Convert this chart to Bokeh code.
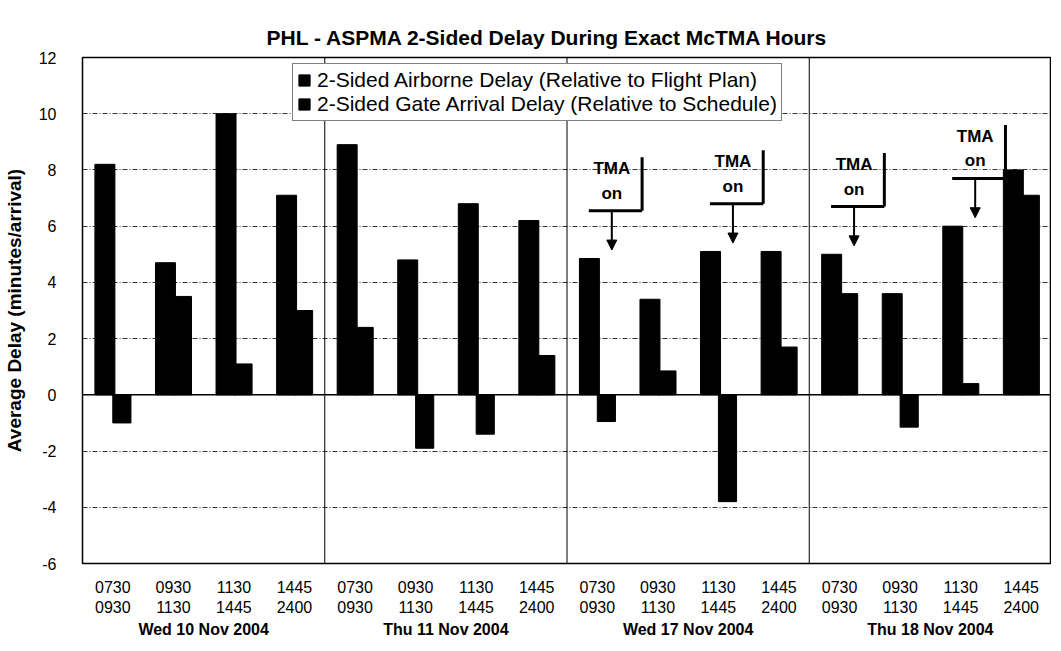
from bokeh.plotting import figure
from bokeh.models import (ColumnDataSource, Range1d, FixedTicker, LinearAxis, Span,
                          Legend, LegendItem, Arrow, NormalHead)
from bokeh.transform import dodge
from bokeh.core.properties import value
from bokeh.embed import file_html
from bokeh.resources import INLINE

# ---------------- data ----------------
periods = ["0730\n0930", "0930\n1130", "1130\n1445", "1445\n2400"]
days = ["Wed 10 Nov 2004", "Thu 11 Nov 2004", "Wed 17 Nov 2004", "Thu 18 Nov 2004"]
airborne = [8.2, 4.7, 10.0, 7.1,
            8.9, 4.8, 6.8, 6.2,
            4.85, 3.4, 5.1, 5.1,
            5.0, 3.6, 6.0, 8.0]
gate = [-1.0, 3.5, 1.1, 3.0,
        2.4, -1.9, -1.4, 1.4,
        -0.95, 0.85, -3.8, 1.7,
        3.6, -1.15, 0.4, 7.1]
tma_on = [8, 10, 12, 14]   # category indices with "TMA on" markers
series_names = ["2-Sided Airborne Delay (Relative to Flight Plan)",
                "2-Sided Gate Arrival Delay (Relative to Schedule)"]
y_ticks = [-6, -4, -2, 0, 2, 4, 6, 8, 10, 12]

FONT = "Liberation Sans"
n = len(airborne)
labels = [periods[i % 4] for i in range(n)]
xs = list(range(n))

src = ColumnDataSource(dict(x=xs, airborne=airborne, gate=gate))

p = figure(width=1051, height=640, output_backend="svg", toolbar_location=None,
           x_range=Range1d(-0.5, n - 0.5), y_range=Range1d(-6, 12),
           min_border_left=72, min_border_right=0, min_border_top=57, min_border_bottom=60)

p.background_fill_color = "white"
p.border_fill_color = "white"
p.outline_line_color = "black"
p.outline_line_width = 1.5

# title
p.title.text = "PHL - ASPMA 2-Sided Delay During Exact McTMA Hours"
p.title.text_font = FONT
p.title.text_font_size = "21px"
p.title.text_font_style = "bold"
p.title.align = "left"
p.title.offset = 184
p.title.standoff = 18
p.title.text_color = "black"

# grids
p.xgrid.visible = False
p.ygrid.ticker = FixedTicker(ticks=y_ticks)
p.ygrid.grid_line_color = "#333333"
p.ygrid.grid_line_dash = "5 2 1 2"
p.ygrid.grid_line_width = 1

# y axis
p.yaxis.ticker = FixedTicker(ticks=y_ticks)
p.yaxis.major_label_overrides = {t: str(t) for t in y_ticks}
p.yaxis.axis_label = "Average Delay (minutes/arrival)"
p.yaxis.axis_label_text_font = FONT
p.yaxis.axis_label_text_font_style = "bold"
p.yaxis.axis_label_text_font_size = "19px"
p.yaxis.axis_label_text_color = "black"
p.yaxis.axis_label_standoff = 11
p.yaxis.major_label_text_font = FONT
p.yaxis.major_label_text_font_size = "16px"
p.yaxis.major_label_text_color = "black"
p.yaxis.major_label_standoff = 20
p.yaxis.major_tick_line_color = None
p.yaxis.minor_tick_line_color = None
p.yaxis.axis_line_color = None

# x axis (period labels)
xa = p.xaxis[0]
xa.ticker = FixedTicker(ticks=xs)
xa.major_label_overrides = {i: labels[i] for i in xs}
xa.major_label_text_font = FONT
xa.major_label_text_font_size = "16px"
xa.major_label_text_color = "black"
xa.major_label_standoff = 9
xa.major_tick_line_color = None
xa.minor_tick_line_color = None
xa.axis_line_color = None

# second x axis (day labels)
day_ticks = [4 * k + 1.5 for k in range(len(days))]
xa2 = LinearAxis(ticker=FixedTicker(ticks=day_ticks),
                 major_label_overrides={t: d for t, d in zip(day_ticks, days)})
xa2.major_label_text_font = FONT
xa2.major_label_text_font_size = "16px"
xa2.major_label_text_font_style = "bold"
xa2.major_label_text_color = "black"
xa2.major_label_standoff = -4
xa2.major_tick_line_color = None
xa2.minor_tick_line_color = None
xa2.axis_line_color = None
p.add_layout(xa2, "below")

# separators and zero line
for k in range(1, len(days)):
    p.add_layout(Span(location=4 * k - 0.5, dimension="height", line_color="black", line_width=1))
p.add_layout(Span(location=0, dimension="width", line_color="black", line_width=1.5))

# bars
r1 = p.vbar(x=dodge("x", -0.13), top="airborne", bottom=0, width=0.33, source=src,
            fill_color="black", line_color="black")
r2 = p.vbar(x=dodge("x", 0.15), top="gate", bottom=0, width=0.30, source=src,
            fill_color="black", line_color="black")

# "TMA on" markers, positioned relative to the bars
for i in tma_on:
    ax = i + 0.24
    tip = airborne[i] + 0.3
    base = tip + 1.4
    p.segment(x0=[ax - 0.38, ax + 0.5], y0=[base, base],
              x1=[ax + 0.5, ax + 0.5], y1=[base, base + 1.9],
              line_color="black", line_width=3)
    p.add_layout(Arrow(end=NormalHead(size=10, fill_color="black", line_color="black"),
                       x_start=ax, y_start=base, x_end=ax, y_end=tip,
                       line_color="black", line_width=2))
    p.text(x=[ax, ax], y=[base + 1.5, base + 0.62], text=["TMA", "on"],
           text_font=value(FONT), text_font_style="bold", text_font_size="17px",
           text_align="center", text_baseline="middle", text_color="black")

# legend
legend = Legend(items=[LegendItem(label=series_names[0], renderers=[r1]),
                       LegendItem(label=series_names[1], renderers=[r2])],
                location=(210, 442))
legend.label_text_font = FONT
legend.label_text_font_size = "21px"
legend.label_text_color = "black"
legend.label_height = 22
legend.glyph_height = 14
legend.glyph_width = 14
legend.label_standoff = 6
legend.spacing = 0
legend.padding = 4
legend.margin = 0
legend.border_line_color = "black"
legend.border_line_width = 1
legend.background_fill_color = "white"
legend.background_fill_alpha = 1
p.add_layout(legend)

open("out.html", "w").write(file_html(p, INLINE))
